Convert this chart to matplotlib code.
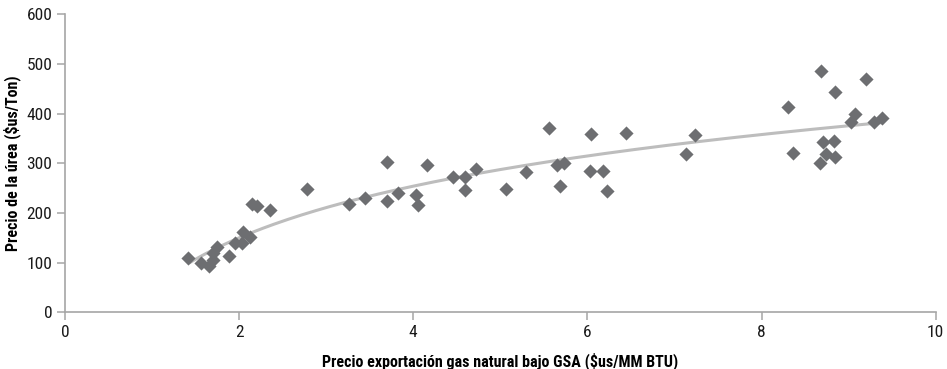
import matplotlib.pyplot as plt
import numpy as np

plt.rcParams['font.family'] = ['Roboto Condensed', 'Liberation Sans Narrow', 'Open Sans Condensed',
                               'Noto Sans', 'DejaVu Sans']
plt.rcParams['font.stretch'] = 'condensed'

# precio exportacion gas natural (x) vs precio urea (y)
gas_price = [1.41, 1.56, 1.66, 1.70, 1.70, 1.75, 1.88, 1.95, 2.04, 2.03, 2.13, 2.15, 2.21, 2.36,
             2.78, 3.26, 3.45, 3.70, 3.70, 3.82, 4.03, 4.06, 4.16, 4.46, 4.59, 4.59, 4.72,
             5.07, 5.29, 5.56, 5.65, 5.73, 5.68, 6.04, 6.03, 6.18, 6.22, 6.44, 7.13, 7.24,
             8.30, 8.36, 8.67, 8.68, 8.71, 8.74, 8.83, 8.84, 8.84, 9.03, 9.07, 9.20, 9.29, 9.38]
urea_price = [109, 100, 94, 106, 119, 131, 113, 139, 162, 139, 152, 219, 215, 206,
              248, 219, 230, 302, 225, 241, 236, 216, 296, 273, 273, 247, 288,
              248, 282, 371, 296, 301, 255, 360, 285, 284, 244, 361, 319, 356,
              414, 321, 300, 485, 342, 318, 345, 444, 312, 384, 399, 470, 383, 391]

# logarithmic trend line y = a*ln(x) + b
trend_a = 150.0
trend_b = 46.0

x_ticks = [0, 2, 4, 6, 8, 10]
y_ticks = [0, 100, 200, 300, 400, 500, 600]

x = np.array(gas_price)
y = np.array(urea_price)

fig = plt.figure(figsize=(9.47, 3.69), dpi=100)
ax = fig.add_axes([0.0686, 0.1537, 0.9194, 0.8075])

xs = np.linspace(1.44, x.max(), 200)
ax.plot(xs, trend_a * np.log(xs) + trend_b, color='#bdbdbd', lw=2.2, zorder=2)

ax.scatter(x, y, marker='D', s=52, color='#6d6e71', linewidths=0, zorder=3)

ax.set_xlim(0, 10)
ax.set_ylim(0, 600)
ax.set_xticks(x_ticks)
ax.set_yticks(y_ticks)

for side in ['top', 'right']:
    ax.spines[side].set_visible(False)
for side in ['left', 'bottom']:
    ax.spines[side].set_color('#a6a6a6')
    ax.spines[side].set_linewidth(1.2)
ax.tick_params(axis='both', colors='#a6a6a6', length=6, width=1.1, labelsize=12.5,
               labelcolor='#1a1a1a')
ax.tick_params(axis='x', pad=3)
ax.tick_params(axis='y', pad=3)

ax.set_xlabel('Precio exportación gas natural bajo GSA ($us/MM BTU)', fontsize=11.5,
              fontweight='bold', labelpad=9)
ax.set_ylabel('Precio de la úrea ($us/Ton)', fontsize=11.5, fontweight='bold', labelpad=4)

fig.savefig('out.png', dpi=100)
plt.close(fig)
